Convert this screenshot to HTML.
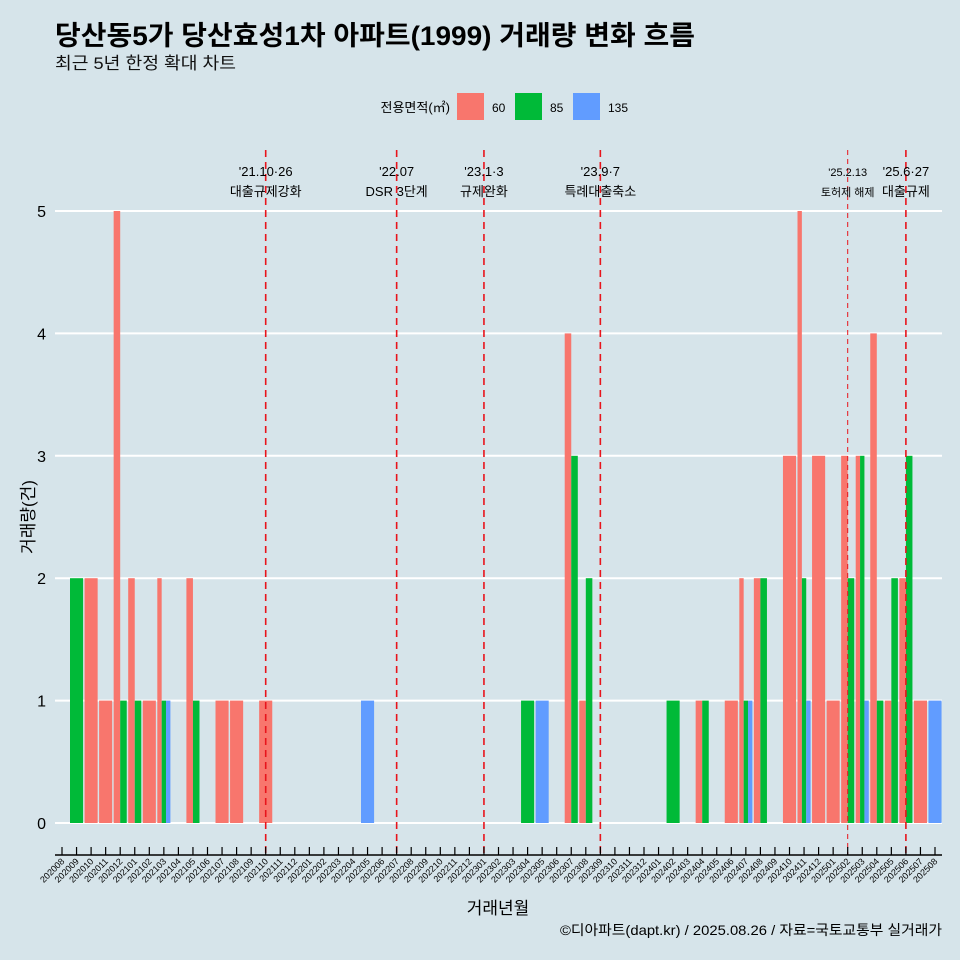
<!DOCTYPE html>
<html><head><meta charset="utf-8">
<style>
html,body{margin:0;padding:0;background:#d6e4ea;}
svg{display:block;font-family:"Liberation Sans","Noto Sans CJK KR",sans-serif;}
</style></head>
<body>
<svg id="chart" width="960" height="960" viewBox="0 0 960 960">
<rect width="960" height="960" fill="#d6e4ea"/>
<text x="55" y="45" font-size="27" font-weight="bold" fill="#000" textLength="640" lengthAdjust="spacingAndGlyphs">당산동5가 당산효성1차 아파트(1999) 거래량 변화 흐름</text>
<text x="55" y="69" font-size="17" fill="#111" textLength="181" lengthAdjust="spacingAndGlyphs">최근 5년 한정 확대 차트</text>
<g>
<text x="450" y="112" font-size="13" text-anchor="end">전용면적(㎡)</text>
<rect x="457" y="93" width="27" height="27" fill="#F8766D"/>
<text x="492" y="112" font-size="12">60</text>
<rect x="515" y="93" width="27" height="27" fill="#00BA38"/>
<text x="550" y="112" font-size="12">85</text>
<rect x="573" y="93" width="27" height="27" fill="#619CFF"/>
<text x="608" y="112" font-size="12">135</text>
</g>
<g id="grid"></g>
<g id="bars"></g>
<g id="events"></g>
<g id="axes"></g>
<text transform="translate(34,517) rotate(-90)" font-size="17" text-anchor="middle">거래량(건)</text>
<text x="498" y="914" font-size="17" text-anchor="middle">거래년월</text>
<text x="942" y="935" font-size="14" text-anchor="end" textLength="382" lengthAdjust="spacingAndGlyphs">©디아파트(dapt.kr) / 2025.08.26 / 자료=국토교통부 실거래가</text>
</svg>
<script>
const months = [];
for (let y = 2020; y <= 2025; y++) for (let m = 1; m <= 12; m++) { const s = y + String(m).padStart(2,'0'); if (s >= '202008' && s <= '202508') months.push(s); }
const groups = ['60','85','135'];
const colors = {'60':'#F8766D','85':'#00BA38','135':'#619CFF'};
const dealMonths = ['202009','202010','202011','202012','202101','202102','202103','202105','202107','202108','202110','202205','202304','202305','202307','202308','202402','202404','202406','202407','202408','202410','202411','202412','202501','202502','202503','202504','202505','202506','202507','202508'];
const area60 =  [0,2,1,5,2,1,2,2,1,1,1,0,0,0,4,1,0,1,1,2,2,3,5,3,1,3,3,4,1,2,1,0];
const area85 =  [2,0,0,1,1,0,1,1,0,0,0,0,1,0,3,2,1,1,0,1,2,0,2,0,0,2,3,1,2,3,0,0];
const area135 = [0,0,0,0,0,0,1,0,0,0,0,1,0,1,0,0,0,0,0,1,0,0,1,0,0,0,1,0,0,0,0,1];
const yTicks = [0,1,2,3,4,5];
const eventMonths = ['202110','202207','202301','202309','202502','202506'];
const eventDates = ["'21.10·26","'22.07","'23.1·3","'23.9·7","'25.2.13","'25.6·27"];
const eventNames = ['대출규제강화','DSR 3단계','규제완화','특례대출축소','토허제 해제','대출규제'];

const NS = 'http://www.w3.org/2000/svg';
const x0 = 62, step = (935 - 62) / (months.length - 1);
const xScale = m => x0 + months.indexOf(m) * step;
const yScale = v => 823 - v * 122.4;
function mk(tag, attrs, parent) { const e = document.createElementNS(NS, tag); for (const k in attrs) e.setAttribute(k, attrs[k]); parent.appendChild(e); return e; }

const grid = document.getElementById('grid');
const axes = document.getElementById('axes');
yTicks.forEach(t => {
  const l = mk('line', {x1:55, x2:942, y1:yScale(t), y2:yScale(t), stroke:'#fff', 'stroke-width':2}, grid);
  
  
  const tx = mk('text', {x:46, y:yScale(t)+6, 'font-size':16, 'text-anchor':'end'}, axes);
  
  
  tx.textContent = t;
});

const bars = document.getElementById('bars');
const series = {'60':area60,'85':area85,'135':area135};
const full = step * 0.9;
dealMonths.forEach((m, i) => {
  const present = groups.filter(g => series[g][i] > 0);
  const w = full / present.length;
  const cx = xScale(m);
  present.forEach((g, j) => {
    const v = series[g][i];
    const r = mk('rect', {x:cx - full/2 + j*w, y:yScale(v), width:w, height:yScale(0)-yScale(v), fill:colors[g]}, bars);
    
    
  });
});

const ev = document.getElementById('events');
eventMonths.forEach((m, i) => {
  const x = xScale(m);
  const thin = m === '202502';
  const l = mk('line', {x1:x, x2:x, y1:150, y2:855, stroke:'#e8141c', 'stroke-width':thin?1:1.6, 'stroke-dasharray':thin?'5,4':'7,5'}, ev);
  
  
  const fs = thin ? 11 : 13;
  const t1 = mk('text', {x:x, y:176, 'font-size':fs, 'text-anchor':'middle'}, ev);
  
  
  t1.textContent = eventDates[i];
  const t2 = mk('text', {x:x, y:196, 'font-size':fs, 'text-anchor':'middle'}, ev);
  
  
  t2.textContent = eventNames[i];
});

const ax = mk('line', {x1:55, x2:942, y1:855, y2:855, stroke:'#000', 'stroke-width':1.5}, axes);


months.forEach(m => {
  const x = xScale(m);
  const tk = mk('line', {x1:x, x2:x, y1:847, y2:855, stroke:'#000', 'stroke-width':1.2}, axes);
  
  
  const t = mk('text', {transform:'translate(' + (x+3) + ',862) rotate(-45)', 'font-size':9, 'text-anchor':'end'}, axes);
  
  
  t.textContent = m;
});
</script>
</body></html>
